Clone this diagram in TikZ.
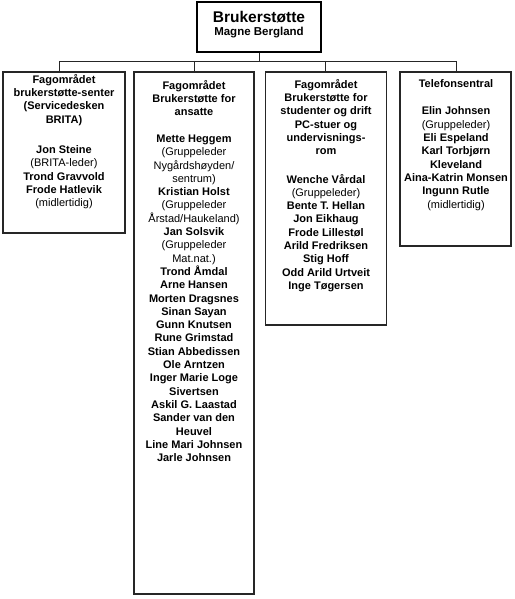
\documentclass[tikz,border=0pt]{standalone}
\usepackage{fontspec}
\setmainfont{Liberation Sans}
\begin{document}
\begin{tikzpicture}[x=1pt,y=-1pt,
  unitbox/.style={draw=black!85,line width=1.4pt,rectangle,inner sep=0pt},
  topbox/.style={draw=black,line width=2.4pt,rectangle,inner sep=0pt},
  txt/.style={anchor=north,align=center,inner sep=0pt,font=\fontsize{11}{13.3}\selectfont\bfseries},
  link/.style={draw=black!85,line width=0.9pt}]
\useasboundingbox (0,0) rectangle (514,599);
% boxes
\node[topbox,minimum width=124pt,minimum height=50pt] (top) at (259,27) {};
\node[unitbox,minimum width=122pt,minimum height=161pt] (b1) at (64,152.5) {};
\node[unitbox,minimum width=120pt,minimum height=522pt] (b2) at (194,333) {};
\node[unitbox,minimum width=121pt,minimum height=253pt] (b3) at (326,198.5) {};
\node[unitbox,minimum width=111pt,minimum height=174pt] (b4) at (455.5,159) {};
% top text
\node[anchor=center,inner sep=0pt,font=\fontsize{15.5}{17}\selectfont\bfseries] (t1) at (259,17) {Brukerstøtte};
\node[anchor=center,inner sep=0pt,font=\fontsize{11.5}{13}\selectfont\bfseries] (t2) at (259,33) {Magne Bergland};
% connectors
\coordinate (busL) at (59,61);
\coordinate (busR) at (456,61);
\coordinate (d1) at (59,72);
\coordinate (d2) at (194,72);
\coordinate (d3) at (325,72);
\coordinate (d4) at (456,72);
\draw[link] (top.south) -- (top.south |- busL);
\draw[link] (busL) -- (busR);
\draw[link] (busL) -- (d1);
\draw[link] (d2 |- busL) -- (d2);
\draw[link] (d3 |- busL) -- (d3);
\draw[link] (busR) -- (d4);
% texts
\node[txt] (x1) at (64,74) {Fagområdet\\brukerstøtte-senter\\(Servicedesken\\BRITA)\\[17pt]
Jon Steine\\{\mdseries (BRITA-leder)}\\Trond Gravvold\\Frode Hatlevik\\{\mdseries (midlertidig)}};
\node[txt] (x2) at (194,80) {Fagområdet\\Brukerstøtte for\\ansatte\\[13.3pt]
Mette Heggem\\{\mdseries (Gruppeleder}\\{\mdseries Nygårdshøyden/}\\{\mdseries sentrum)}\\
Kristian Holst\\{\mdseries (Gruppeleder}\\{\mdseries Årstad/Haukeland)}\\
Jan Solsvik\\{\mdseries (Gruppeleder}\\{\mdseries Mat.nat.)}\\
Trond Åmdal\\Arne Hansen\\Morten Dragsnes\\Sinan Sayan\\Gunn Knutsen\\Rune Grimstad\\Stian Abbedissen\\Ole Arntzen\\Inger Marie Loge\\Sivertsen\\Askil G. Laastad\\Sander van den\\Heuvel\\Line Mari Johnsen\\Jarle Johnsen};
\node[txt] (x3) at (326,79) {Fagområdet\\Brukerstøtte for\\studenter og drift\\PC-stuer og\\undervisnings-\\rom\\[15pt]
Wenche Vårdal\\{\mdseries (Gruppeleder)}\\Bente T. Hellan\\Jon Eikhaug\\Frode Lillestøl\\Arild Fredriksen\\Stig Hoff\\Odd Arild Urtveit\\Inge Tøgersen};
\node[txt] (x4) at (456,79) {Telefonsentral\\[14.5pt]
Elin Johnsen\\{\mdseries (Gruppeleder)}\\Eli Espeland\\Karl Torbjørn\\Kleveland\\Aina-Katrin Monsen\\Ingunn Rutle\\{\mdseries (midlertidig)}};
\end{tikzpicture}
\end{document}
